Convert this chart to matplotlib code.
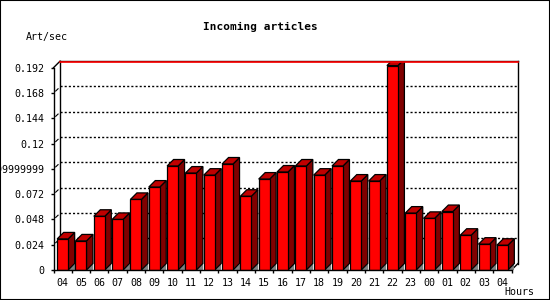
import matplotlib.pyplot as plt
from matplotlib.patches import Polygon, Rectangle

plt.rcParams['lines.scale_dashes'] = False

hours = ['04', '05', '06', '07', '08', '09', '10', '11', '12', '13', '14', '15',
         '16', '17', '18', '19', '20', '21', '22', '23', '00', '01', '02', '03', '04']
articles = [0.0295, 0.0276, 0.051, 0.048, 0.067, 0.0787, 0.0987, 0.092, 0.090, 0.1006,
            0.070, 0.0863, 0.093, 0.0987, 0.090, 0.0987, 0.0844, 0.0844, 0.194, 0.054,
            0.049, 0.0555, 0.033, 0.0245, 0.0235]
yticks = [0, 0.024, 0.048, 0.072, 0.096, 0.12, 0.144, 0.168, 0.192]
ytick_labels = ['0', '0.024', '0.048', '0.072', '0.0959999999999999',
                '0.12', '0.144', '0.168', '0.192']

mono = 'DejaVu Sans Mono'
depth = 6.5  # pixels, for the 3d look

fig = plt.figure(figsize=(5.5, 3), dpi=100)
ax = fig.add_axes([53.5 / 550, 30 / 300, 458 / 550, 202.3 / 300])
ax.set_xlim(-0.5, len(hours) - 0.5)
ax.set_ylim(0, 0.192)

# depth in data units
ddx = depth * (len(hours)) / 458
ddy = depth * 0.192 / 202.3

for s in ['top', 'right']:
    ax.spines[s].set_visible(False)
for s in ['left', 'bottom']:
    ax.spines[s].set_linewidth(1)
    ax.spines[s].set_zorder(5)

x0 = -0.5
x1 = len(hours) - 0.5
top = 0.192

# back wall grid
for t in yticks[1:-1]:
    ax.plot([x0 + ddx, x1 + ddx], [t + ddy, t + ddy], color='black', lw=1,
            linestyle=(0, (1.5, 1.5)), clip_on=False, zorder=1)
    ax.plot([x0 + 0.12, x0 + 0.25], [t + ddy * 0.3, t + ddy * 0.65], color='black',
            lw=0.8, clip_on=False, zorder=1)

ax.plot([x0 + ddx, x0 + ddx], [ddy, top + ddy], color='black', lw=1, clip_on=False, zorder=1)
ax.plot([x1 + ddx, x1 + ddx], [ddy, top + ddy], color='black', lw=1, clip_on=False, zorder=1)
ax.plot([x1, x1 + ddx], [0, ddy], color='black', lw=1, clip_on=False, zorder=1)
ax.plot([x0, x0 + ddx], [top, top + ddy], color='black', lw=1, clip_on=False, zorder=6)
ax.plot([x0 + ddx, x1 + ddx], [top + ddy, top + ddy], color='black', lw=1,
        clip_on=False, zorder=6)
ax.plot([x0 + ddx, x1 + ddx], [top + ddy * 0.92, top + ddy * 0.92], color='red', lw=1.2,
        clip_on=False, zorder=6)

clip = Rectangle((x0, 0), x1 - x0 + ddx, top + ddy, transform=ax.transData)

w = 0.6
for i, v in enumerate(articles):
    l = i - w / 2
    r = i + w / 2
    shadow = Polygon([(r, 0), (r + ddx, 0), (r + ddx, ddy)], closed=True,
                     facecolor='#808080', edgecolor='none', zorder=2)
    side = Polygon([(r, 0), (r + ddx, ddy), (r + ddx, v + ddy), (r, v)], closed=True,
                   facecolor='#800000', edgecolor='black', lw=0.9, zorder=3)
    topf = Polygon([(l, v), (r, v), (r + ddx, v + ddy), (l + ddx, v + ddy)], closed=True,
                   facecolor='#C00000', edgecolor='black', lw=0.9, zorder=3)
    for p in (shadow, side, topf):
        ax.add_patch(p)
        p.set_clip_path(clip)
    b = ax.bar(i, v, width=w, color='#FF0000', edgecolor='black', lw=0.9, zorder=4)
    b[0].set_clip_path(clip)

ax.set_yticks(yticks)
ax.set_yticklabels(ytick_labels, fontfamily=mono, fontsize=7.2)
ax.tick_params(axis='y', direction='out', length=2.5, width=1, pad=4)

ax.set_xticks(range(len(hours)))
ax.set_xticklabels(hours, fontfamily=mono, fontsize=7.2)
ax.set_xticks([k - 0.5 for k in range(len(hours) + 1)], minor=True)
ax.tick_params(axis='x', which='major', length=0, pad=6)
ax.tick_params(axis='x', which='minor', direction='out', length=2.5, width=1)

fig.text(260 / 550, 1 - 27 / 300, 'Incoming articles', ha='center', va='center',
         fontfamily=mono, fontsize=8, fontweight='bold')
fig.text(47 / 550, 1 - 37 / 300, 'Art/sec', ha='center', va='center',
         fontfamily=mono, fontsize=7.2)
fig.text(519 / 550, 1 - 292 / 300, 'Hours', ha='center', va='center',
         fontfamily=mono, fontsize=7.2)

fig.add_artist(Rectangle((0, 0), 1, 1, transform=fig.transFigure, fill=False,
                         edgecolor='black', lw=1.5))

plt.savefig('out.png', dpi=100)
